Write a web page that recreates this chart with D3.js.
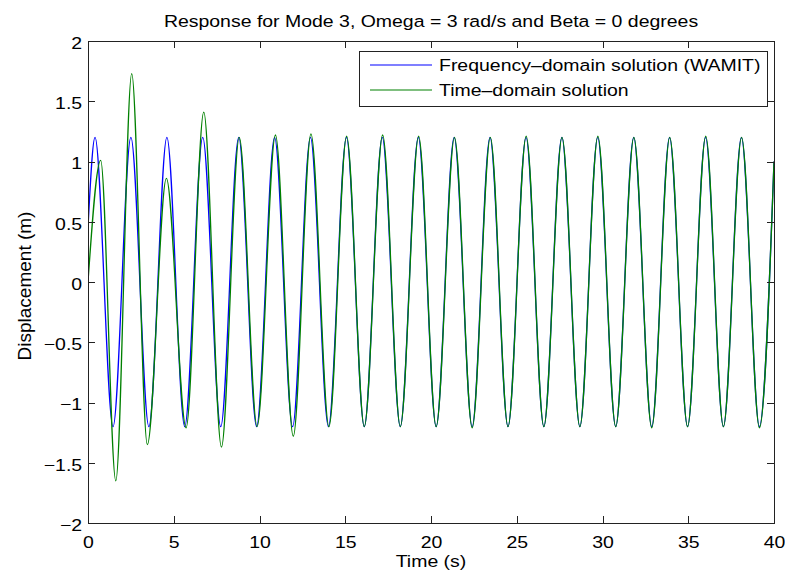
<!DOCTYPE html>
<html lang="en">
  <head>
    <meta charset="utf-8">
    <title>Mode 3 response</title>
    <script type="text/javascript" src="https://cdn.jsdelivr.net/npm/d3@7"></script>
    <style>
      body { margin: 0; background: #fff; }
      text { font-family: "Liberation Sans", Arial, sans-serif; fill: #000; }
      .axis path,
      .axis line {
        fill: none;
        stroke: #222;
        shape-rendering: crispEdges;
      }
      .axis text { font-size: 16.5px; }
    </style>
  </head>
  <body>
    <script type="text/javascript">

      // tick values
      var xTicks = [0, 5, 10, 15, 20, 25, 30, 35, 40];
      var yTicks = [-2, -1.5, -1, -0.5, 0, 0.5, 1, 1.5, 2];

      // frequency-domain (WAMIT) solution: start, peaks/troughs, end
      var freqTime = [0, 0.41, 1.46, 2.50, 3.55, 4.60, 5.64, 6.69, 7.74, 8.79, 9.83,
                      10.88, 11.93, 12.97, 14.02, 15.07, 16.11, 17.16, 18.21, 19.26, 20.30,
                      21.35, 22.40, 23.44, 24.49, 25.54, 26.58, 27.63, 28.68, 29.72, 30.77,
                      31.82, 32.87, 33.91, 34.96, 36.01, 37.05, 38.10, 39.15, 40];
      var freqDisp = [0.45, 1.2, -1.2, 1.2, -1.2, 1.2, -1.2, 1.2, -1.2, 1.2, -1.2,
                      1.2, -1.2, 1.2, -1.2, 1.2, -1.2, 1.2, -1.2, 1.2, -1.2,
                      1.2, -1.2, 1.2, -1.2, 1.2, -1.2, 1.2, -1.2, 1.2, -1.2,
                      1.2, -1.2, 1.2, -1.2, 1.2, -1.2, 1.2, -1.2, 1.0];

      // time-domain solution: start, peaks/troughs, end
      var timeTime = [0, 0.74, 1.62, 2.55, 3.46, 4.57, 5.72, 6.75, 7.78, 8.82, 9.86,
                      10.93, 11.97, 13.00, 14.05, 15.08, 16.11, 17.18, 18.21, 19.28, 20.30,
                      21.37, 22.40, 23.46, 24.49, 25.55, 26.58, 27.64, 28.68, 29.73, 30.77,
                      31.83, 32.87, 33.92, 34.96, 36.02, 37.05, 38.11, 39.15, 40];
      var timeDisp = [0, 1.01, -1.65, 1.73, -1.35, 0.86, -1.21, 1.41, -1.37, 1.2, -1.2,
                      1.22, -1.28, 1.23, -1.2, 1.21, -1.2, 1.22, -1.2, 1.21, -1.2,
                      1.2, -1.21, 1.2, -1.2, 1.21, -1.2, 1.2, -1.2, 1.21, -1.2,
                      1.2, -1.21, 1.2, -1.2, 1.21, -1.2, 1.2, -1.21, 1.0];

      var seriesNames = ["Frequency\u2013domain solution (WAMIT)", "Time\u2013domain solution"];
      var seriesColors = ["#0000ff", "#008000"];

      var w = 785;
      var h = 573;
      var pLeft = 88, pRight = 774, pTop = 41, pBottom = 523;
      var stretch = 1.18;   // text in the picture is a bit wide

      var mySvg = d3.select("body")
                    .append("svg")
                    .attr("width", w)
                    .attr("height", h);

      var xScale = d3.scaleLinear().domain([0, 40]).range([pLeft, pRight]);
      var yScale = d3.scaleLinear().domain([-2, 2]).range([pBottom, pTop]);

      var fmt = d3.format("");

      function label(x, y, str, anchor, size) {
        return mySvg.append("text")
                    .attr("transform", "translate(" + x + "," + y + ") scale(" + stretch + ",1)")
                    .attr("text-anchor", anchor)
                    .attr("font-size", size + "px")
                    .text(str);
      }

      // curves
      mySvg.append("clipPath").attr("id", "clip")
           .append("rect")
           .attr("x", pLeft).attr("y", pTop)
           .attr("width", pRight - pLeft).attr("height", pBottom - pTop);

      var line = d3.line()
                   .x(function(d) { return xScale(d[0]); })
                   .y(function(d) { return yScale(d[1]); })
                   .curve(d3.curveMonotoneX);

      var series = [d3.zip(freqTime, freqDisp), d3.zip(timeTime, timeDisp)];

      mySvg.append("g")
           .attr("clip-path", "url(#clip)")
           .selectAll("path")
           .data(series)
           .enter()
           .append("path")
           .attr("d", line)
           .attr("fill", "none")
           .attr("stroke", function(d, i) { return seriesColors[i]; })
           .attr("stroke-width", 1.3);

      // axes, ticks pointing inward on all four sides
      mySvg.append("g")
           .attr("class", "axis")
           .attr("transform", "translate(0," + pBottom + ")")
           .call(d3.axisBottom(xScale).tickValues(xTicks).tickFormat(fmt)
                   .tickSizeInner(-7).tickSizeOuter(0).tickPadding(13))
           .selectAll("text").attr("transform", "scale(" + stretch + ",1)");

      mySvg.append("g")
           .attr("class", "axis")
           .attr("transform", "translate(0," + pTop + ")")
           .call(d3.axisTop(xScale).tickValues(xTicks).tickFormat("")
                   .tickSizeInner(-7).tickSizeOuter(0));

      mySvg.append("g")
           .attr("class", "axis")
           .attr("transform", "translate(" + pLeft + ",0)")
           .call(d3.axisLeft(yScale).tickValues(yTicks).tickFormat(fmt)
                   .tickSizeInner(-7).tickSizeOuter(0).tickPadding(5))
           .selectAll("text").attr("dy", "0.45em").attr("transform", "scale(" + stretch + ",1)");

      mySvg.append("g")
           .attr("class", "axis")
           .attr("transform", "translate(" + pRight + ",0)")
           .call(d3.axisRight(yScale).tickValues(yTicks).tickFormat("")
                   .tickSizeInner(-7).tickSizeOuter(0));

      // legend
      var lg = mySvg.append("g");
      lg.append("rect")
        .attr("x", 359).attr("y", 51)
        .attr("width", 408).attr("height", 55)
        .attr("fill", "#fff")
        .attr("stroke", "#222")
        .attr("shape-rendering", "crispEdges");

      lg.selectAll("line")
        .data(seriesNames)
        .enter()
        .append("line")
        .attr("x1", 370).attr("x2", 432)
        .attr("y1", function(d, i) { return 65 + i * 25; })
        .attr("y2", function(d, i) { return 65 + i * 25; })
        .attr("stroke", function(d, i) { return seriesColors[i]; })
        .attr("stroke-width", 1.2);

      seriesNames.forEach(function(name, i) {
        label(439, 71 + i * 25, name, "start", 16.5);
      });

      // titles
      label((pLeft + pRight) / 2, 27, "Response for Mode 3, Omega = 3 rad/s and Beta = 0 degrees", "middle", 16.5);
      label((pLeft + pRight) / 2, 567, "Time (s)", "middle", 16.5);

      mySvg.append("text")
           .attr("transform", "translate(31," + ((pTop + pBottom) / 2 + 4) + ") rotate(-90)")
           .attr("text-anchor", "middle")
           .attr("font-size", "19px")
           .text("Displacement (m)");

    </script>
  </body>
</html>
